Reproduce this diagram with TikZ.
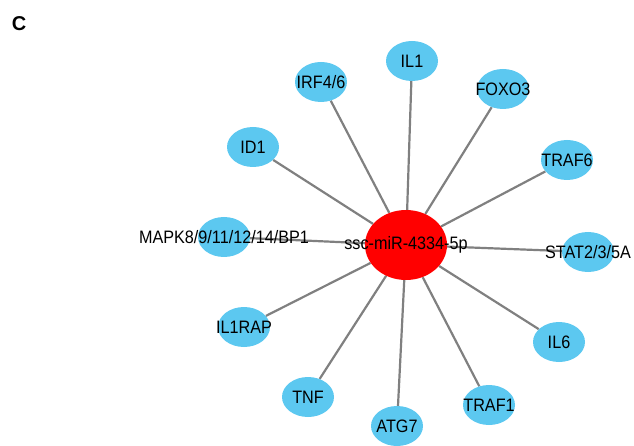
\documentclass[tikz,border=0pt]{standalone}
\usepackage{fontspec}
\usepackage{graphicx}
\setmainfont{Liberation Sans}
\usetikzlibrary{shapes.geometric, backgrounds}
\definecolor{geneblue}{RGB}{92,200,240}
\definecolor{edgegray}{RGB}{128,128,128}
\newcommand{\gtext}[1]{\scalebox{0.9}[1]{#1}}
\tikzstyle{gene} = [
    ellipse, fill=geneblue, minimum width=52pt, minimum height=40pt,
    inner sep=0pt
]
\tikzstyle{mirna} = [
    ellipse, fill=red, minimum width=82pt, minimum height=70pt, inner sep=0pt
]
\tikzstyle{edge} = [draw=edgegray, line width=2.2pt]

\begin{document}
\begin{tikzpicture}[x=1pt, y=-1pt, font=\fontsize{18}{21}\selectfont]
        \useasboundingbox (0,0) rectangle (634,446);
        \node (panel) at (19,24) {\fontsize{20}{24}\selectfont\bfseries C};

        \node (hub) [mirna, label={center:\gtext{ssc-miR-4334-5p}}] at (406,245) {};
        \node (il1) [gene, label={center:\gtext{IL1}}] at (412,61) {};
        \node (irf) [gene, label={center:\gtext{IRF4/6}}] at (321,82) {};
        \node (foxo) [gene, label={center:\gtext{FOXO3}}] at (503,89) {};
        \node (id1) [gene, label={center:\gtext{ID1}}] at (253,147) {};
        \node (traf6) [gene, label={center:\gtext{TRAF6}}] at (567,160) {};
        \node (mapk) [gene, label={center:\gtext{MAPK8/9/11/12/14/BP1}}] at (224,237) {};
        \node (stat) [gene, label={center:\gtext{STAT2/3/5A}}] at (588,252) {};
        \node (il1rap) [gene, label={center:\gtext{IL1RAP}}] at (244,327) {};
        \node (il6) [gene, label={center:\gtext{IL6}}] at (559,342) {};
        \node (tnf) [gene, label={center:\gtext{TNF}}] at (308,397) {};
        \node (traf1) [gene, label={center:\gtext{TRAF1}}] at (489,405) {};
        \node (atg) [gene, label={center:\gtext{ATG7}}] at (397,426) {};

        \begin{pgfonlayer}{background}
            \draw [edge] (hub) -- (il1);
            \draw [edge] (hub) -- (irf);
            \draw [edge] (hub) -- (foxo);
            \draw [edge] (hub) -- (id1);
            \draw [edge] (hub) -- (traf6);
            \draw [edge] (hub) -- (mapk);
            \draw [edge] (hub) -- (stat);
            \draw [edge] (hub) -- (il1rap);
            \draw [edge] (hub) -- (il6);
            \draw [edge] (hub) -- (tnf);
            \draw [edge] (hub) -- (traf1);
            \draw [edge] (hub) -- (atg);
        \end{pgfonlayer}
    \end{tikzpicture}
\end{document}
